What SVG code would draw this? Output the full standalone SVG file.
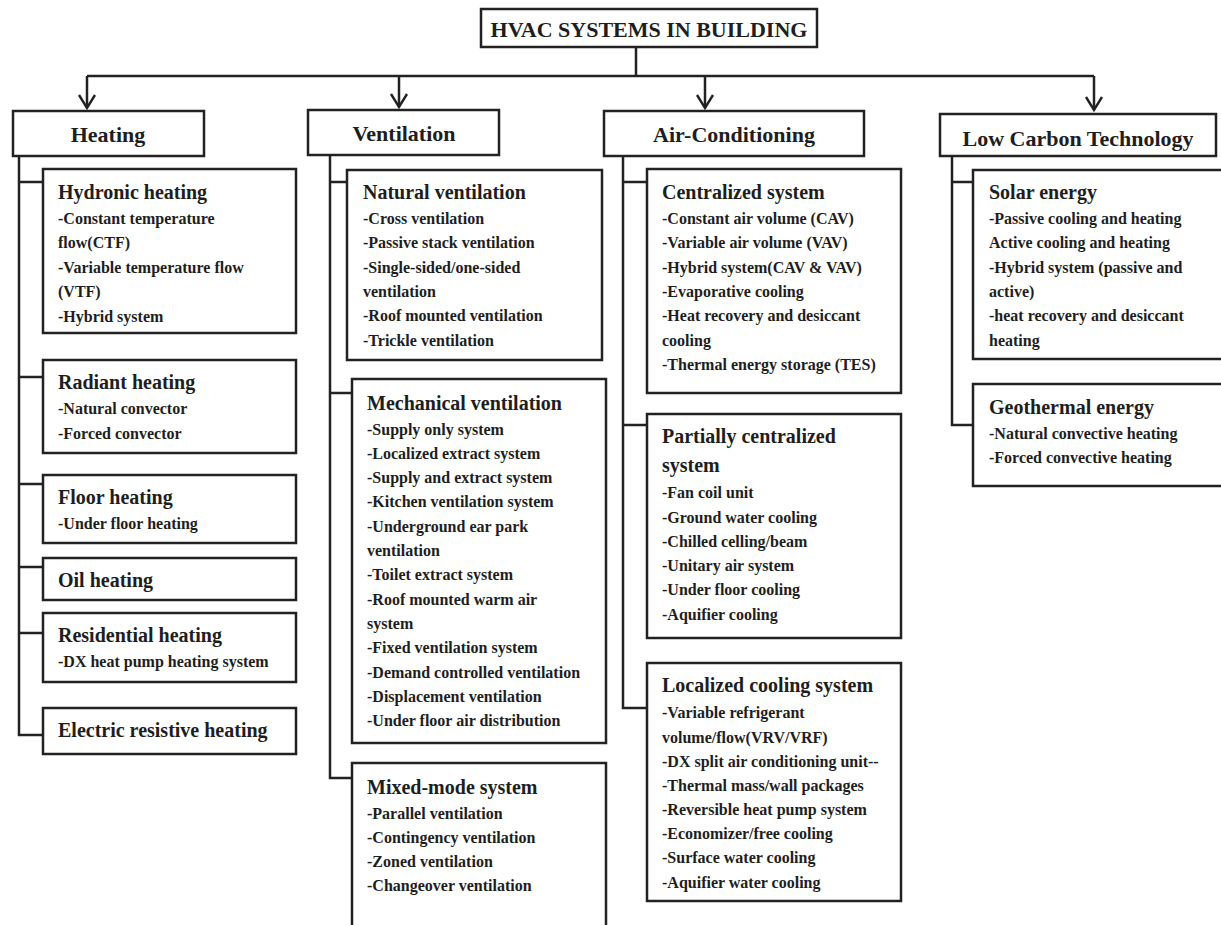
<svg xmlns="http://www.w3.org/2000/svg" width="1221" height="925" viewBox="0 0 1221 925">
<defs>
<marker id="arr" markerUnits="userSpaceOnUse" markerWidth="18" markerHeight="20" refX="14" refY="9" orient="auto" viewBox="0 0 18 18">
<path d="M1,1 L14,9 L1,17" fill="none" stroke="#222" stroke-width="2.4"/>
</marker>
</defs>
<style>
.box{fill:#fff;stroke:#222;stroke-width:2.5}
.ln{fill:none;stroke:#222;stroke-width:2.5}
text{font-family:"Liberation Serif","Times New Roman",serif;font-weight:bold;fill:#1e1e1e}
.main{font-size:22px;text-anchor:middle}
.h{font-size:22px;text-anchor:middle}
.t{font-size:20px}
.i{font-size:16px}
</style>
<rect width="1221" height="925" fill="#fff"/>
<g id="connectors">
<path class="ln" d="M636,48 V76 M87,76 H1094"/>
<path class="ln" d="M87,76 V108" marker-end="url(#arr)"/>
<path class="ln" d="M399,76 V107" marker-end="url(#arr)"/>
<path class="ln" d="M705,76 V108" marker-end="url(#arr)"/>
<path class="ln" d="M1094,76 V110" marker-end="url(#arr)"/>
<path class="ln" d="M19,156 V735 H43 M19,182 H43 M19,377 H43 M19,484 H43 M19,567 H43 M19,633 H43"/>
<path class="ln" d="M330,155 V778 H352 M330,182 H347 M330,393 H352"/>
<path class="ln" d="M623,156 V708 H647 M623,182 H647 M623,425 H647"/>
<path class="ln" d="M952,156 V425 H973 M952,182 H973"/>
</g>
<g id="title">
<rect class="box" x="481" y="9" width="336" height="38"/>
<text class="main" x="649" y="37">HVAC SYSTEMS IN BUILDING</text>
</g>
<g id="heating">
<rect class="box" x="13" y="111" width="191" height="45"/>
<text class="h" x="108" y="142">Heating</text>
</g>
<g id="ventilation">
<rect class="box" x="308" y="110" width="191" height="45"/>
<text class="h" x="404" y="141">Ventilation</text>
</g>
<g id="air-conditioning">
<rect class="box" x="604" y="111" width="260" height="45"/>
<text class="h" x="734" y="142">Air-Conditioning</text>
</g>
<g id="low-carbon">
<rect class="box" x="940" y="114" width="276" height="42"/>
<text class="h" x="1078" y="146">Low Carbon Technology</text>
</g>
<g id="hydronic">
<rect class="box" x="43" y="169" width="253" height="164"/>
<text class="t" x="58" y="199">Hydronic heating</text>
<text class="i" x="58" y="224">-Constant temperature</text>
<text class="i" x="58" y="248">flow(CTF)</text>
<text class="i" x="58" y="273">-Variable temperature flow</text>
<text class="i" x="58" y="297">(VTF)</text>
<text class="i" x="58" y="322">-Hybrid system</text>
</g>
<g id="radiant">
<rect class="box" x="43" y="360" width="253" height="93"/>
<text class="t" x="58" y="389">Radiant heating</text>
<text class="i" x="58" y="414">-Natural convector</text>
<text class="i" x="58" y="439">-Forced convector</text>
</g>
<g id="floor">
<rect class="box" x="43" y="475" width="253" height="68"/>
<text class="t" x="58" y="504">Floor heating</text>
<text class="i" x="58" y="529">-Under floor heating</text>
</g>
<g id="oil">
<rect class="box" x="43" y="558" width="253" height="42"/>
<text class="t" x="58" y="587">Oil heating</text>
</g>
<g id="residential">
<rect class="box" x="43" y="613" width="253" height="69"/>
<text class="t" x="58" y="642">Residential heating</text>
<text class="i" x="58" y="667">-DX heat pump heating system</text>
</g>
<g id="electric">
<rect class="box" x="43" y="708" width="253" height="46"/>
<text class="t" x="58" y="737">Electric resistive heating</text>
</g>
<g id="natural">
<rect class="box" x="347" y="170" width="255" height="190"/>
<text class="t" x="363" y="199">Natural ventilation</text>
<text class="i" x="363" y="224">-Cross ventilation</text>
<text class="i" x="363" y="248">-Passive stack ventilation</text>
<text class="i" x="363" y="273">-Single-sided/one-sided</text>
<text class="i" x="363" y="297">ventilation</text>
<text class="i" x="363" y="321">-Roof mounted ventilation</text>
<text class="i" x="363" y="346">-Trickle ventilation</text>
</g>
<g id="mechanical">
<rect class="box" x="352" y="379" width="254" height="364"/>
<text class="t" x="367" y="410">Mechanical ventilation</text>
<text class="i" x="367" y="435">-Supply only system</text>
<text class="i" x="367" y="459">-Localized extract system</text>
<text class="i" x="367" y="483">-Supply and extract system</text>
<text class="i" x="367" y="507">-Kitchen ventilation system</text>
<text class="i" x="367" y="532">-Underground ear park</text>
<text class="i" x="367" y="556">ventilation</text>
<text class="i" x="367" y="580">-Toilet extract system</text>
<text class="i" x="367" y="605">-Roof mounted warm air</text>
<text class="i" x="367" y="629">system</text>
<text class="i" x="367" y="653">-Fixed ventilation system</text>
<text class="i" x="367" y="678">-Demand controlled ventilation</text>
<text class="i" x="367" y="702">-Displacement ventilation</text>
<text class="i" x="367" y="726">-Under floor air distribution</text>
</g>
<g id="mixed">
<rect class="box" x="352" y="763" width="254" height="175"/>
<text class="t" x="367" y="794">Mixed-mode system</text>
<text class="i" x="367" y="819">-Parallel ventilation</text>
<text class="i" x="367" y="843">-Contingency ventilation</text>
<text class="i" x="367" y="867">-Zoned ventilation</text>
<text class="i" x="367" y="891">-Changeover ventilation</text>
</g>
<g id="centralized">
<rect class="box" x="647" y="169" width="254" height="224"/>
<text class="t" x="662" y="199">Centralized system</text>
<text class="i" x="662" y="224">-Constant air volume (CAV)</text>
<text class="i" x="662" y="248">-Variable air volume (VAV)</text>
<text class="i" x="662" y="273">-Hybrid system(CAV &amp; VAV)</text>
<text class="i" x="662" y="297">-Evaporative cooling</text>
<text class="i" x="662" y="321">-Heat recovery and desiccant</text>
<text class="i" x="662" y="346">cooling</text>
<text class="i" x="662" y="370">-Thermal energy storage (TES)</text>
</g>
<g id="partially">
<rect class="box" x="647" y="414" width="254" height="224"/>
<text class="t" x="662" y="443">Partially centralized</text>
<text class="t" x="662" y="472">system</text>
<text class="i" x="662" y="498">-Fan coil unit</text>
<text class="i" x="662" y="523">-Ground water cooling</text>
<text class="i" x="662" y="547">-Chilled celling/beam</text>
<text class="i" x="662" y="571">-Unitary air system</text>
<text class="i" x="662" y="595">-Under floor cooling</text>
<text class="i" x="662" y="620">-Aquifier cooling</text>
</g>
<g id="localized">
<rect class="box" x="647" y="663" width="254" height="238"/>
<text class="t" x="662" y="692">Localized cooling system</text>
<text class="i" x="662" y="718">-Variable refrigerant</text>
<text class="i" x="662" y="743">volume/flow(VRV/VRF)</text>
<text class="i" x="662" y="767">-DX split air conditioning unit--</text>
<text class="i" x="662" y="791">-Thermal mass/wall packages</text>
<text class="i" x="662" y="815">-Reversible heat pump system</text>
<text class="i" x="662" y="839">-Economizer/free cooling</text>
<text class="i" x="662" y="863">-Surface water cooling</text>
<text class="i" x="662" y="888">-Aquifier water cooling</text>
</g>
<g id="solar">
<rect class="box" x="973" y="170" width="260" height="189"/>
<text class="t" x="989" y="199">Solar energy</text>
<text class="i" x="989" y="224">-Passive cooling and heating</text>
<text class="i" x="989" y="248">Active cooling and heating</text>
<text class="i" x="989" y="273">-Hybrid system (passive and</text>
<text class="i" x="989" y="297">active)</text>
<text class="i" x="989" y="321">-heat recovery and desiccant</text>
<text class="i" x="989" y="346">heating</text>
</g>
<g id="geothermal">
<rect class="box" x="973" y="384" width="260" height="102"/>
<text class="t" x="989" y="414">Geothermal energy</text>
<text class="i" x="989" y="439">-Natural convective heating</text>
<text class="i" x="989" y="463">-Forced convective heating</text>
</g>
</svg>
